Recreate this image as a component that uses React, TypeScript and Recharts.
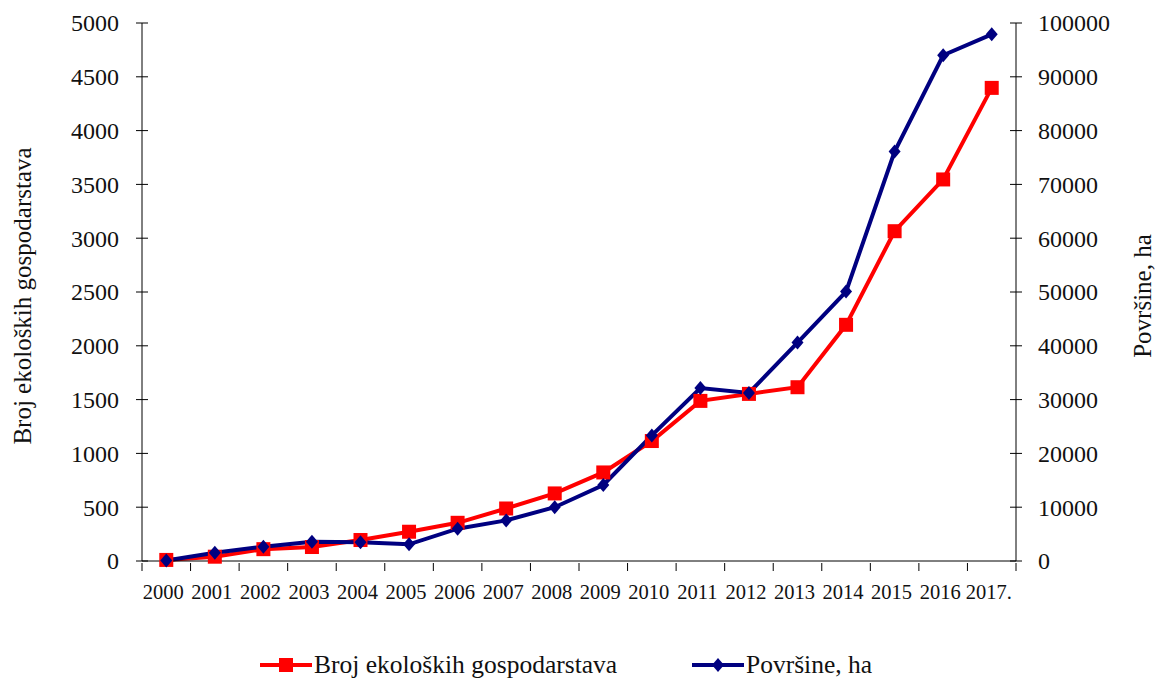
import React from "react";
import { LineChart, Line, XAxis, YAxis, Legend } from "recharts";

const YEARS = [
  "2000", "2001", "2002", "2003", "2004", "2005", "2006", "2007", "2008",
  "2009", "2010", "2011", "2012", "2013", "2014", "2015", "2016", "2017.",
];
// Broj ekoloških gospodarstava (left axis)
const FARMS = [10, 40, 110, 130, 195, 272, 355, 488, 628, 823, 1115, 1488, 1553, 1615, 2195, 3065, 3546, 4397];
// Površine, ha (right axis)
const AREA_HA = [100, 1540, 2660, 3590, 3480, 3100, 6000, 7550, 10000, 14130, 23350, 32150, 31240, 40600, 50080, 76100, 94000, 97900];

const LEFT_TICKS = [0, 500, 1000, 1500, 2000, 2500, 3000, 3500, 4000, 4500, 5000];
const RIGHT_TICKS = [0, 10000, 20000, 30000, 40000, 50000, 60000, 70000, 80000, 90000, 100000];

const FONT = "Liberation Serif, DejaVu Serif, serif";
const RED = "#ff0000";
const NAVY = "#000080";

const W = 1156;
const H = 679;
const LEFT_W = 142;
const RIGHT_W = 140;
const PLOT_W = W - LEFT_W - RIGHT_W;
const BAND = PLOT_W / YEARS.length;

const data = YEARS.map((year, i) => ({ year, farms: FARMS[i], area: AREA_HA[i] }));

function LeftTick({ x, y, payload }: any) {
  return (
    <g>
      <line x1={x - 6} x2={x + 6} y1={y} y2={y} stroke="#000" strokeWidth={1} />
      <text x={x - 23} y={y} dy="0.35em" textAnchor="end" fontFamily={FONT} fontSize={24} fill="#111">
        {payload.value}
      </text>
    </g>
  );
}

function RightTick({ x, y, payload }: any) {
  return (
    <g>
      <line x1={x - 6} x2={x + 6} y1={y} y2={y} stroke="#000" strokeWidth={1} />
      <text x={x + 22} y={y} dy="0.35em" textAnchor="start" fontFamily={FONT} fontSize={24} fill="#111">
        {payload.value}
      </text>
    </g>
  );
}

function YearTick({ x, y, payload, index }: any) {
  const last = index === YEARS.length - 1;
  return (
    <g>
      <line x1={x - BAND / 2} x2={x - BAND / 2} y1={y} y2={y + 8} stroke="#000" strokeWidth={1} />
      {last && <line x1={x + BAND / 2} x2={x + BAND / 2} y1={y} y2={y + 8} stroke="#000" strokeWidth={1} />}
      <text x={x - 3} y={y + 29} dy="0.35em" textAnchor="middle" fontFamily={FONT} fontSize={20.5} fill="#111">
        {payload.value}
      </text>
    </g>
  );
}

function AxisTitle({ viewBox, text, dx }: any) {
  const cx = viewBox.x + dx;
  const cy = viewBox.y + viewBox.height / 2 + 4;
  return (
    <text
      x={cx}
      y={cy}
      dy="0.35em"
      textAnchor="middle"
      transform={`rotate(-90 ${cx} ${cy})`}
      fontFamily={FONT}
      fontSize={25}
      fill="#111"
    >
      {text}
    </text>
  );
}

function SquareDot({ cx, cy }: any) {
  if (cx == null || cy == null) return null;
  return <rect x={cx - 7} y={cy - 7} width={14} height={14} fill={RED} />;
}

function DiamondDot({ cx, cy }: any) {
  if (cx == null || cy == null) return null;
  return <path d={`M${cx} ${cy - 7}L${cx + 6} ${cy}L${cx} ${cy + 7}L${cx - 6} ${cy}Z`} fill={NAVY} />;
}

function LegendContent() {
  const item = (left: number, color: string, marker: React.ReactNode, label: string) => (
    <div style={{ position: "absolute", left, top: 3, display: "flex", alignItems: "center", height: 34 }}>
      <svg width={54} height={20}>
        <line x1={0} x2={52} y1={10} y2={10} stroke={color} strokeWidth={4} />
        {marker}
      </svg>
      <span style={{ fontFamily: FONT, fontSize: 25.5, color: "#111", marginLeft: 0 }}>{label}</span>
    </div>
  );
  return (
    <div style={{ position: "relative", width: W, height: 34 }}>
      {item(260, RED, <rect x={19} y={3} width={14} height={14} fill={RED} />, "Broj ekoloških gospodarstava")}
      {item(692, NAVY, <path d="M26 3L32 10L26 17L20 10Z" fill={NAVY} />, "Površine, ha")}
    </div>
  );
}

export default function App() {
  return (
    <div style={{ width: W, height: H, background: "#fff" }}>
      <style>{"body{margin:0;background:#fff}"}</style>
      <LineChart width={W} height={H} data={data} margin={{ top: 23, right: 0, left: 0, bottom: 34 }}>
        <XAxis
          dataKey="year"
          xAxisId={0}
          scale="band"
          height={50}
          interval={0}
          tickLine={false}
          tickSize={0}
          tick={<YearTick />}
          axisLine={{ stroke: "#000", strokeWidth: 1 }}
        />
        <YAxis
          yAxisId="left"
          orientation="left"
          width={LEFT_W}
          domain={[0, 5000]}
          ticks={LEFT_TICKS}
          interval={0}
          tickLine={false}
          tickSize={0}
          tickMargin={0}
          tick={<LeftTick />}
          axisLine={{ stroke: "#000", strokeWidth: 1 }}
          label={<AxisTitle text="Broj ekoloških gospodarstava" dx={22} />}
        />
        <YAxis
          yAxisId="right"
          orientation="right"
          width={RIGHT_W}
          domain={[0, 100000]}
          ticks={RIGHT_TICKS}
          interval={0}
          tickLine={false}
          tickSize={0}
          tickMargin={0}
          tick={<RightTick />}
          axisLine={{ stroke: "#000", strokeWidth: 1 }}
          label={<AxisTitle text="Površine, ha" dx={126} />}
        />
        <Legend
          verticalAlign="bottom"
          content={<LegendContent />}
          wrapperStyle={{ left: 0, width: W, height: 34, bottom: 0 }}
        />
        <Line
          yAxisId="left"
          dataKey="farms"
          name="Broj ekoloških gospodarstava"
          stroke={RED}
          strokeWidth={4}
          dot={<SquareDot />}
          activeDot={false}
          isAnimationActive={false}
        />
        <Line
          yAxisId="right"
          dataKey="area"
          name="Površine, ha"
          stroke={NAVY}
          strokeWidth={4}
          dot={<DiamondDot />}
          activeDot={false}
          isAnimationActive={false}
        />
      </LineChart>
    </div>
  );
}
